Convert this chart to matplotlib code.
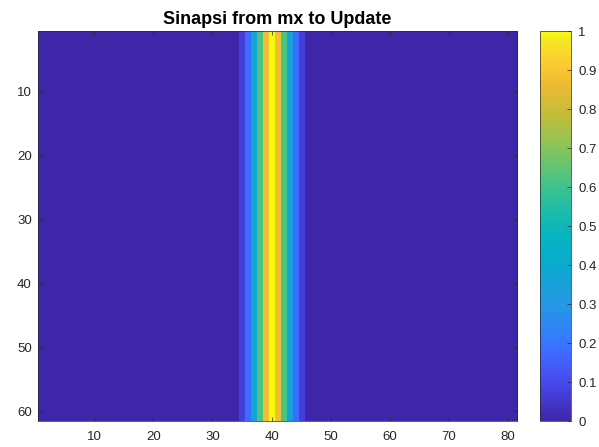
import numpy as np
import matplotlib
matplotlib.use('Agg')
import matplotlib.pyplot as plt
from matplotlib.colors import LinearSegmentedColormap

plt.rcParams['font.family'] = ['Liberation Sans', 'DejaVu Sans']

# synapse weights: every row of the 61x81 matrix carries the same column profile
n_rows = 61
n_cols = 81
peak_cols = [35, 36, 37, 38, 39, 40, 41, 42, 43, 44, 45]
peak_vals = [0.07, 0.18, 0.36, 0.62, 0.88, 1.0, 0.88, 0.62, 0.36, 0.18, 0.07]

x_ticks = [10, 20, 30, 40, 50, 60, 70, 80]
y_ticks = [10, 20, 30, 40, 50, 60]
cbar_ticks = [0, 0.1, 0.2, 0.3, 0.4, 0.5, 0.6, 0.7, 0.8, 0.9, 1]

# parula-like colormap
parula_pts = [
    (0.000, (0.2422, 0.1504, 0.6603)),
    (0.095, (0.2780, 0.2785, 0.9210)),
    (0.160, (0.2600, 0.3900, 0.9950)),
    (0.210, (0.2052, 0.4811, 0.9975)),
    (0.300, (0.1453, 0.6009, 0.8926)),
    (0.400, (0.0400, 0.6700, 0.8100)),
    (0.470, (0.0165, 0.7052, 0.7553)),
    (0.540, (0.1104, 0.7357, 0.6614)),
    (0.600, (0.2405, 0.7639, 0.5472)),
    (0.665, (0.4245, 0.7730, 0.4209)),
    (0.730, (0.6105, 0.7628, 0.3087)),
    (0.790, (0.7731, 0.7402, 0.2246)),
    (0.855, (0.9107, 0.7302, 0.1973)),
    (0.920, (0.9940, 0.7925, 0.2008)),
    (0.980, (0.9597, 0.9135, 0.1350)),
    (1.000, (0.9763, 0.9831, 0.0538)),
]
parula = LinearSegmentedColormap.from_list('parula', parula_pts, N=256)

W = np.zeros((n_rows, n_cols))
for c, v in zip(peak_cols, peak_vals):
    W[:, c - 1] = v

fig = plt.figure(figsize=(5.99, 4.47), dpi=100)
ax = fig.add_axes([0.0634, 0.058, 0.7998, 0.8726])
im = ax.imshow(W, cmap=parula, vmin=0, vmax=1, aspect='auto', interpolation='nearest',
               extent=(0.5, n_cols + 0.5, n_rows + 0.5, 0.5))

ax.set_title('Sinapsi from mx to Update', fontsize=13, fontweight='bold', pad=5)
ax.set_xticks(x_ticks)
ax.set_yticks(y_ticks)
ax.tick_params(direction='in', length=3, width=0.5, labelsize=9.5, labelcolor='#262626',
               color='#262626', top=True, right=True)
ax.tick_params(axis='x', pad=7)
ax.tick_params(axis='y', pad=4.5)
for s in ax.spines.values():
    s.set_linewidth(0.5)
    s.set_color('#262626')

cax = fig.add_axes([0.9015, 0.058, 0.0525, 0.8726])
cb = fig.colorbar(im, cax=cax, ticks=cbar_ticks)
cb.ax.set_yticklabels([f'{t:g}' for t in cbar_ticks])
cb.ax.tick_params(direction='in', length=3, width=0.5, labelsize=9.5, labelcolor='#262626',
                  color='#262626', pad=5)
cb.outline.set_linewidth(0.5)
cb.outline.set_edgecolor('#262626')

fig.savefig('out.png', dpi=100)
